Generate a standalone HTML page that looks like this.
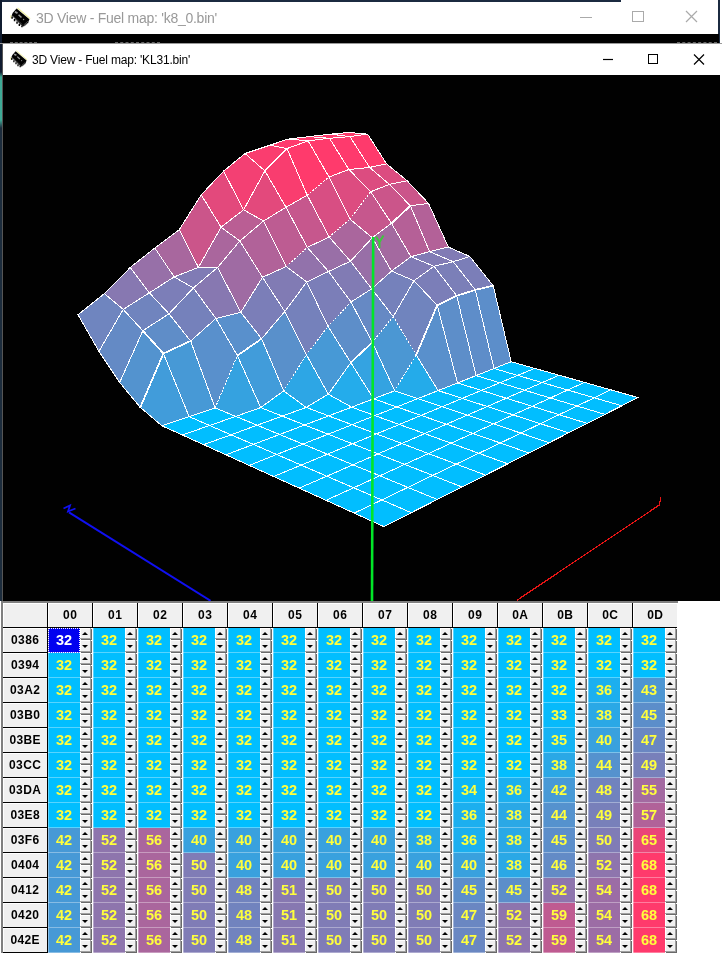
<!DOCTYPE html>
<html><head><meta charset="utf-8"><title>3D View</title>
<style>
html,body{margin:0;padding:0}
body{width:722px;height:953px;position:relative;overflow:hidden;background:#fff;font-family:"Liberation Sans",sans-serif}
div,i{box-sizing:border-box}
#all{position:absolute;left:0;top:0;width:722px;height:953px;will-change:transform;opacity:.999}
.abs{position:absolute}
.t1{position:absolute;left:36px;top:7.6px;font-size:14px;letter-spacing:-0.26px;color:#999;white-space:nowrap;line-height:20px}
.t2{position:absolute;left:32px;top:51px;font-size:12px;letter-spacing:-0.19px;color:#000;white-space:nowrap;line-height:18px}
#grid{position:absolute;left:0;top:601px;width:722px;height:352px;background:#fff}
.h{position:absolute;background:#f0f0f0;font-weight:bold;font-size:12px;letter-spacing:.4px;text-indent:.4px;text-align:center;color:#000;
 box-shadow:inset 1px 1px 0 #fff, 1px 0 0 #000, 0 1px 0 #000, 1px 1px 0 #000;}
.hl{box-shadow:inset 1px 1px 0 #fff, 0 1px 0 #000}
.c{position:absolute;width:32px;height:25px;line-height:25px;font-weight:bold;font-size:14.5px;letter-spacing:-0.2px;text-indent:-0.2px;color:#ffff3c;text-align:center;box-shadow:inset 1px 0 0 rgba(255,255,255,.35),inset 0 -1px 0 rgba(255,255,255,.35)}
.sel{background:#0000f0;color:#fff;outline:1px dotted #fff;outline-offset:-1px}
.sp{position:absolute;width:12px;height:25px;background:#fff}
.sp i{position:absolute;left:0;width:11px;height:12px;background:#f0f0f0;box-shadow:inset -1px -1px 0 #a0a0a0,inset 1px 1px 0 #fff, 1px 1px 0 #696969}
.sp i.u{top:0;height:11px}
.sp i.d{top:12px}
.sp i.u:after{content:"";position:absolute;left:2px;top:4px;border-left:3px solid transparent;border-right:3px solid transparent;border-bottom:3px solid #000}
.sp i.d:after{content:"";position:absolute;left:2px;top:5px;border-left:3px solid transparent;border-right:3px solid transparent;border-top:3px solid #000}
</style></head><body><div id="all">
<!-- back window -->
<div class="abs" style="left:0;top:0;width:621px;height:2px;background:#1b2a40"></div>
<div class="abs" style="left:0;top:0;width:2px;height:601px;background:linear-gradient(#101c30 0,#101c30 72px,#3faa96 77px,#3faa96 120px,#1c2c3c 128px,#1c2c3c 100%)"></div>
<div class="abs" style="left:2px;top:44px;width:1px;height:557px;background:#555"></div>
<div class="abs" style="left:718px;top:0;width:2px;height:43px;background:#1b2a40"></div>
<div class="abs" style="left:2px;top:34px;width:717px;height:9px;background:#000"></div>
<div class="abs" style="left:0;top:43px;width:722px;height:1px;background:#9a9a9a"></div>
<div class="abs" style="left:10px;top:42px;width:27px;height:1px;border-top:1px dashed #666"></div>
<div class="abs" style="left:115px;top:42px;width:45px;height:1px;border-top:1px dashed #666"></div>
<div class="abs" style="left:677px;top:42px;width:40px;height:1px;border-top:1px dashed #666"></div>
<svg class="abs" style="left:9.8px;top:6.8px" width="21.1" height="21.1" viewBox="-1 -1 18 18"><path d="M5.4 -0.1 L16.2 8.9" stroke="#f0f0a0" stroke-width="1"/><path d="M-0.2 6 L-0.2 8.5" stroke="#f0f0a0" stroke-width="1"/><path d="M4.6 0.2 L15.6 9.4 L14.6 12 L10.6 15.6 L8.8 14.8 L0.4 6.2 L1.4 4 Z" fill="#000"/><path d="M0.8 7v2M2.9 9.2v2M5 11.3v2M7 13.3v2M9.2 15v1.2" stroke="#000" stroke-width="1.3"/><path d="M1.2 6.4 L9.6 14.2" stroke="#666" stroke-width=".6"/><path d="M3.2 3.2 L5.4 4.2" stroke="#999" stroke-width="1.6"/><path d="M6.3 5.6 L8.8 8" stroke="#999" stroke-width="1.3"/><circle cx="10.6" cy="9.6" r=".6" fill="#888"/><path d="M10.5 14.5 L14.5 11 M11.5 15.3 L15 12.2" stroke="#777" stroke-width=".5"/></svg>
<div class="t1">3D View - Fuel map: 'k8_0.bin'</div>
<svg class="abs" style="left:570px;top:5px" width="140" height="24" viewBox="570 5 140 24">
<path d="M580 17.5H592" stroke="#aaa" stroke-width="1"/>
<rect x="632.5" y="11.5" width="11" height="10" fill="none" stroke="#aaa"/>
<path d="M686 11L697 22M697 11L686 22" stroke="#aaa" stroke-width="1.2"/>
</svg>
<!-- front window -->
<svg class="abs" style="left:10.0px;top:50.0px" width="18.0" height="18.0" viewBox="-1 -1 18 18"><path d="M5.4 -0.1 L16.2 8.9" stroke="#f0f0a0" stroke-width="1"/><path d="M-0.2 6 L-0.2 8.5" stroke="#f0f0a0" stroke-width="1"/><path d="M4.6 0.2 L15.6 9.4 L14.6 12 L10.6 15.6 L8.8 14.8 L0.4 6.2 L1.4 4 Z" fill="#000"/><path d="M0.8 7v2M2.9 9.2v2M5 11.3v2M7 13.3v2M9.2 15v1.2" stroke="#000" stroke-width="1.3"/><path d="M1.2 6.4 L9.6 14.2" stroke="#666" stroke-width=".6"/><path d="M3.2 3.2 L5.4 4.2" stroke="#999" stroke-width="1.6"/><path d="M6.3 5.6 L8.8 8" stroke="#999" stroke-width="1.3"/><circle cx="10.6" cy="9.6" r=".6" fill="#888"/><path d="M10.5 14.5 L14.5 11 M11.5 15.3 L15 12.2" stroke="#777" stroke-width=".5"/></svg>
<div class="t2">3D View - Fuel map: 'KL31.bin'</div>
<svg class="abs" style="left:590px;top:48px" width="125" height="22" viewBox="590 48 125 22">
<path d="M603 59.5H613" stroke="#000" stroke-width="1.2"/>
<rect x="648.5" y="54.5" width="9" height="9" fill="none" stroke="#000" stroke-width="1" shape-rendering="crispEdges"/>
<path d="M694 54.5L704 64.5M704 54.5L694 64.5" stroke="#000" stroke-width="1.2"/>
</svg>
<svg width="717" height="526" viewBox="3 75 717 526" style="position:absolute;left:3px;top:75px" shape-rendering="crispEdges">
<defs></defs>
<rect x="3" y="75" width="717" height="526" fill="#000"/>
<line x1="69" y1="512.3" x2="210.6" y2="600.8" stroke="#1010f0" stroke-width="2" shape-rendering="auto"/>
<path d="M63.5 508.5 L70 505.5 L68 511.5 L75.5 508.5" stroke="#1010f0" stroke-width="1.8" fill="none" shape-rendering="auto"/>
<polyline points="516.6,600.5 659.3,505 661,497" stroke="#e61414" stroke-width="1.2" fill="none"/>
<g stroke="#fff" stroke-width="1" fill="none" stroke-linecap="square"><polygon points="349.9,136.6 330.5,134.1 348.9,132.5 367.6,134.1" fill="#fd3b6d" stroke="none"/><path d="M349.9 136.6L330.5 134.1M330.5 134.1L348.9 132.5M367.6 134.1L348.9 132.5M349.9 136.6L367.6 134.1"/><polygon points="369.6,167.4 349.9,136.6 367.6,134.1 386.6,163.9" fill="#fe3a6c" stroke="none"/><path d="M369.6 167.4L349.9 136.6M349.9 136.6L367.6 134.1M386.6 163.9L367.6 134.1M369.6 167.4L386.6 163.9"/><polygon points="329.5,138.3 309.5,136.6 330.5,134.1 349.9,136.6" fill="#fe3a6d" stroke="none"/><path d="M329.5 138.3L309.5 136.6M309.5 136.6L330.5 134.1M349.9 136.6L330.5 134.1M329.5 138.3L349.9 136.6"/><polygon points="389.4,184.4 369.6,167.4 386.6,163.9 407.1,180.7" fill="#dc4c80" stroke="none"/><path d="M389.4 184.4L369.6 167.4M369.6 167.4L386.6 163.9M407.1 180.7L386.6 163.9M389.4 184.4L407.1 180.7"/><polygon points="410.4,205.8 389.4,184.4 407.1,180.7 428.5,203.4" fill="#cb558a" stroke="none"/><path d="M410.4 205.8L389.4 184.4M389.4 184.4L407.1 180.7M428.5 203.4L407.1 180.7M410.4 205.8L428.5 203.4"/><polygon points="348.9,169.5 329.5,138.3 349.9,136.6 369.6,167.4" fill="#fe3a6d" stroke="none"/><path d="M348.9 169.5L329.5 138.3M329.5 138.3L349.9 136.6M369.6 167.4L349.9 136.6M348.9 169.5L369.6 167.4"/><polygon points="429.6,251.6 410.4,205.8 428.5,203.4 448.3,247.0" fill="#b36198" stroke="none"/><path d="M429.6 251.6L410.4 205.8M410.4 205.8L428.5 203.4M448.3 247.0L428.5 203.4M429.6 251.6L448.3 247.0"/><polygon points="370.7,191.7 348.9,169.5 369.6,167.4 389.4,184.4" fill="#dc4c80" stroke="none"/><path d="M370.7 191.7L348.9 169.5M348.9 169.5L369.6 167.4M389.4 184.4L369.6 167.4M370.7 191.7L389.4 184.4"/><polygon points="308.1,140.8 288.1,139.1 309.5,136.6 329.5,138.3" fill="#fe3b6d" stroke="none"/><path d="M308.1 140.8L288.1 139.1M288.1 139.1L309.5 136.6M329.5 138.3L309.5 136.6M308.1 140.8L329.5 138.3"/><polygon points="453.2,261.7 429.6,251.6 448.3,247.0 469.8,256.5" fill="#817bb5" stroke="none"/><path d="M453.2 261.7L429.6 251.6M429.6 251.6L448.3 247.0M469.8 256.5L448.3 247.0M453.2 261.7L469.8 256.5"/><polygon points="517.6,375.4 494.0,368.5 511.2,361.7 534.7,368.4" fill="#00beff" stroke="none"/><path d="M517.6 375.4L494.0 368.5M494.0 368.5L511.2 361.7M534.7 368.4L511.2 361.7M517.6 375.4L534.7 368.4"/><polygon points="494.0,368.5 475.3,289.9 493.2,285.7 511.2,361.7" fill="#5c8eca" stroke="none"/><path d="M494.0 368.5L475.3 289.9M511.2 361.7L493.2 285.7M494.0 368.5L511.2 361.7"/><path d="M475.3 289.9L493.2 285.7" stroke-width="1.7"/><polygon points="391.5,223.3 370.7,191.7 389.4,184.4 410.4,205.8" fill="#cb558a" stroke="none"/><path d="M391.5 223.3L370.7 191.7M370.7 191.7L389.4 184.4M410.4 205.8L389.4 184.4"/><path d="M391.5 223.3L410.4 205.8" stroke-width="1.7"/><polygon points="329.0,177.0 308.1,140.8 329.5,138.3 348.9,169.5" fill="#ff3a6c" stroke="none"/><path d="M329.0 177.0L308.1 140.8M308.1 140.8L329.5 138.3M348.9 169.5L329.5 138.3M329.0 177.0L348.9 169.5"/><polygon points="410.9,256.7 391.5,223.3 410.4,205.8 429.6,251.6" fill="#b56097" stroke="none"/><path d="M410.9 256.7L391.5 223.3M429.6 251.6L410.4 205.8M410.9 256.7L429.6 251.6"/><path d="M391.5 223.3L410.4 205.8" stroke-width="1.7"/><polygon points="475.3,289.9 453.2,261.7 469.8,256.5 493.2,285.7" fill="#7b7eb8" stroke="none"/><path d="M475.3 289.9L453.2 261.7M453.2 261.7L469.8 256.5M493.2 285.7L469.8 256.5"/><path d="M475.3 289.9L493.2 285.7" stroke-width="1.7"/><polygon points="349.9,219.1 329.0,177.0 348.9,169.5 370.7,191.7" fill="#dd4c80" stroke="none"/><path d="M349.9 219.1L329.0 177.0M329.0 177.0L348.9 169.5M370.7 191.7L348.9 169.5"/><path d="M349.9 219.1L370.7 191.7" stroke-dasharray="1 2.6"/><polygon points="287.0,148.6 269.9,145.2 288.1,139.1 308.1,140.8" fill="#fe3b6d" stroke="none"/><path d="M287.0 148.6L269.9 145.2M269.9 145.2L288.1 139.1M308.1 140.8L288.1 139.1M287.0 148.6L308.1 140.8"/><polygon points="434.0,266.3 410.9,256.7 429.6,251.6 453.2,261.7" fill="#817bb5" stroke="none"/><path d="M434.0 266.3L410.9 256.7M410.9 256.7L429.6 251.6M453.2 261.7L429.6 251.6M434.0 266.3L453.2 261.7"/><polygon points="372.3,237.8 349.9,219.1 370.7,191.7 391.5,223.3" fill="#c6578d" stroke="none"/><path d="M372.3 237.8L349.9 219.1M391.5 223.3L370.7 191.7M372.3 237.8L391.5 223.3"/><path d="M349.9 219.1L370.7 191.7" stroke-dasharray="1 2.6"/><polygon points="542.2,382.6 517.6,375.4 534.7,368.4 559.1,375.2" fill="#00beff" stroke="none"/><path d="M542.2 382.6L517.6 375.4M517.6 375.4L534.7 368.4M559.1 375.2L534.7 368.4M542.2 382.6L559.1 375.2"/><polygon points="499.9,382.8 476.1,375.6 494.0,368.5 517.6,375.4" fill="#00beff" stroke="none"/><path d="M499.9 382.8L476.1 375.6M476.1 375.6L494.0 368.5M517.6 375.4L494.0 368.5M499.9 382.8L517.6 375.4"/><polygon points="476.1,375.6 456.7,295.8 475.3,289.9 494.0,368.5" fill="#5e8dc9" stroke="none"/><path d="M476.1 375.6L456.7 295.8M494.0 368.5L475.3 289.9M476.1 375.6L494.0 368.5"/><path d="M456.7 295.8L475.3 289.9" stroke-width="1.7"/><polygon points="307.2,195.2 287.0,148.6 308.1,140.8 329.0,177.0" fill="#ff3a6c" stroke="none"/><path d="M307.2 195.2L287.0 148.6M287.0 148.6L308.1 140.8M329.0 177.0L308.1 140.8"/><path d="M307.2 195.2L329.0 177.0" stroke-dasharray="1 2.6"/><polygon points="391.5,271.1 372.3,237.8 391.5,223.3 410.9,256.7" fill="#a469a0" stroke="none"/><path d="M391.5 271.1L372.3 237.8M372.3 237.8L391.5 223.3M410.9 256.7L391.5 223.3M391.5 271.1L410.9 256.7"/><polygon points="329.2,237.0 307.2,195.2 329.0,177.0 349.9,219.1" fill="#d84e83" stroke="none"/><path d="M329.2 237.0L307.2 195.2M349.9 219.1L329.0 177.0"/><path d="M307.2 195.2L329.0 177.0M329.2 237.0L349.9 219.1" stroke-dasharray="1 2.6"/><polygon points="456.7,295.8 434.0,266.3 453.2,261.7 475.3,289.9" fill="#7b7fb8" stroke="none"/><path d="M456.7 295.8L434.0 266.3M434.0 266.3L453.2 261.7M475.3 289.9L453.2 261.7"/><path d="M456.7 295.8L475.3 289.9" stroke-width="1.7"/><polygon points="350.5,261.2 329.2,237.0 349.9,219.1 372.3,237.8" fill="#aa669d" stroke="none"/><path d="M350.5 261.2L329.2 237.0M372.3 237.8L349.9 219.1M350.5 261.2L372.3 237.8"/><path d="M329.2 237.0L349.9 219.1" stroke-dasharray="1 2.6"/><polygon points="264.9,170.9 245.0,153.5 269.9,145.2 287.0,148.6" fill="#fa3d6f" stroke="none"/><path d="M264.9 170.9L245.0 153.5M245.0 153.5L269.9 145.2M287.0 148.6L269.9 145.2"/><path d="M264.9 170.9L287.0 148.6" stroke-width="1.7"/><polygon points="414.0,280.7 391.5,271.1 410.9,256.7 434.0,266.3" fill="#817bb5" stroke="none"/><path d="M414.0 280.7L391.5 271.1M391.5 271.1L410.9 256.7M434.0 266.3L410.9 256.7M414.0 280.7L434.0 266.3"/><polygon points="371.7,288.8 350.5,261.2 372.3,237.8 391.5,271.1" fill="#986fa7" stroke="none"/><path d="M371.7 288.8L350.5 261.2M350.5 261.2L372.3 237.8M391.5 271.1L372.3 237.8M371.7 288.8L391.5 271.1"/><polygon points="286.0,207.3 264.9,170.9 287.0,148.6 307.2,195.2" fill="#f93d6f" stroke="none"/><path d="M286.0 207.3L264.9 170.9M307.2 195.2L287.0 148.6M286.0 207.3L307.2 195.2"/><path d="M264.9 170.9L287.0 148.6" stroke-width="1.7"/><polygon points="307.3,247.4 286.0,207.3 307.2,195.2 329.2,237.0" fill="#c6578d" stroke="none"/><path d="M307.3 247.4L286.0 207.3M286.0 207.3L307.2 195.2M329.2 237.0L307.2 195.2M307.3 247.4L329.2 237.0"/><polygon points="567.7,390.0 542.2,382.6 559.1,375.2 584.5,382.4" fill="#00beff" stroke="none"/><path d="M567.7 390.0L542.2 382.6M542.2 382.6L559.1 375.2M584.5 382.4L559.1 375.2M567.7 390.0L584.5 382.4"/><polygon points="524.6,390.2 499.9,382.8 517.6,375.4 542.2,382.6" fill="#00beff" stroke="none"/><path d="M524.6 390.2L499.9 382.8M499.9 382.8L517.6 375.4M542.2 382.6L517.6 375.4M524.6 390.2L542.2 382.6"/><polygon points="243.6,209.8 223.6,171.1 245.0,153.5 264.9,170.9" fill="#f34073" stroke="none"/><path d="M243.6 209.8L223.6 171.1M223.6 171.1L245.0 153.5M264.9 170.9L245.0 153.5M243.6 209.8L264.9 170.9"/><polygon points="457.5,383.0 437.2,305.3 456.7,295.8 476.1,375.6" fill="#5d8ec9" stroke="none"/><path d="M457.5 383.0L437.2 305.3M476.1 375.6L456.7 295.8M457.5 383.0L476.1 375.6"/><path d="M437.2 305.3L456.7 295.8" stroke-width="1.7"/><polygon points="481.4,390.4 457.5,383.0 476.1,375.6 499.9,382.8" fill="#00beff" stroke="none"/><path d="M481.4 390.4L457.5 383.0M457.5 383.0L476.1 375.6M499.9 382.8L476.1 375.6M481.4 390.4L499.9 382.8"/><polygon points="328.5,271.5 307.3,247.4 329.2,237.0 350.5,261.2" fill="#996fa7" stroke="none"/><path d="M328.5 271.5L307.3 247.4M307.3 247.4L329.2 237.0M350.5 261.2L329.2 237.0M328.5 271.5L350.5 261.2"/><polygon points="393.2,316.5 371.7,288.8 391.5,271.1 414.0,280.7" fill="#7581bb" stroke="none"/><path d="M393.2 316.5L371.7 288.8M371.7 288.8L391.5 271.1M414.0 280.7L391.5 271.1M393.2 316.5L414.0 280.7"/><polygon points="437.2,305.3 414.0,280.7 434.0,266.3 456.7,295.8" fill="#7b7eb8" stroke="none"/><path d="M437.2 305.3L414.0 280.7M414.0 280.7L434.0 266.3M456.7 295.8L434.0 266.3"/><path d="M437.2 305.3L456.7 295.8" stroke-width="1.7"/><polygon points="263.5,221.0 243.6,209.8 264.9,170.9 286.0,207.3" fill="#e3497c" stroke="none"/><path d="M263.5 221.0L243.6 209.8M243.6 209.8L264.9 170.9M286.0 207.3L264.9 170.9M263.5 221.0L286.0 207.3"/><polygon points="221.1,227.2 201.2,194.8 223.6,171.1 243.6,209.8" fill="#e3497c" stroke="none"/><path d="M221.1 227.2L201.2 194.8M201.2 194.8L223.6 171.1M243.6 209.8L223.6 171.1M221.1 227.2L243.6 209.8"/><polygon points="351.0,302.0 328.5,271.5 350.5,261.2 371.7,288.8" fill="#817bb4" stroke="none"/><path d="M351.0 302.0L328.5 271.5M328.5 271.5L350.5 261.2M371.7 288.8L350.5 261.2M351.0 302.0L371.7 288.8"/><polygon points="286.3,266.5 263.5,221.0 286.0,207.3 307.3,247.4" fill="#bd5c92" stroke="none"/><path d="M286.3 266.5L263.5 221.0M263.5 221.0L286.0 207.3M307.3 247.4L286.0 207.3"/><path d="M286.3 266.5L307.3 247.4" stroke-dasharray="1 2.6"/><polygon points="438.1,390.6 416.2,355.0 437.2,305.3 457.5,383.0" fill="#5990cc" stroke="none"/><path d="M438.1 390.6L416.2 355.0M457.5 383.0L437.2 305.3M438.1 390.6L457.5 383.0"/><path d="M416.2 355.0L437.2 305.3" stroke-width="1.7"/><polygon points="416.2,355.0 393.2,316.5 414.0,280.7 437.2,305.3" fill="#7084be" stroke="none"/><path d="M393.2 316.5L414.0 280.7M437.2 305.3L414.0 280.7"/><path d="M416.2 355.0L437.2 305.3" stroke-width="1.7"/><path d="M416.2 355.0L393.2 316.5" stroke-dasharray="1 2.6"/><polygon points="372.3,342.3 351.0,302.0 371.7,288.8 393.2,316.5" fill="#6689c4" stroke="none"/><path d="M372.3 342.3L351.0 302.0M351.0 302.0L371.7 288.8M393.2 316.5L371.7 288.8"/><path d="M372.3 342.3L393.2 316.5" stroke-dasharray="1 2.6"/><polygon points="594.3,397.8 567.7,390.0 584.5,382.4 610.8,389.8" fill="#00beff" stroke="none"/><path d="M594.3 397.8L567.7 390.0M567.7 390.0L584.5 382.4M610.8 389.8L584.5 382.4M594.3 397.8L610.8 389.8"/><polygon points="198.4,267.4 179.4,229.5 201.2,194.8 221.1,227.2" fill="#cb558a" stroke="none"/><path d="M198.4 267.4L179.4 229.5M179.4 229.5L201.2 194.8M221.1 227.2L201.2 194.8M198.4 267.4L221.1 227.2"/><polygon points="550.3,398.0 524.6,390.2 542.2,382.6 567.7,390.0" fill="#00beff" stroke="none"/><path d="M550.3 398.0L524.6 390.2M524.6 390.2L542.2 382.6M567.7 390.0L542.2 382.6M550.3 398.0L567.7 390.0"/><polygon points="306.7,282.0 286.3,266.5 307.3,247.4 328.5,271.5" fill="#9272ab" stroke="none"/><path d="M306.7 282.0L286.3 266.5M328.5 271.5L307.3 247.4M306.7 282.0L328.5 271.5"/><path d="M286.3 266.5L307.3 247.4" stroke-dasharray="1 2.6"/><polygon points="239.8,241.0 221.1,227.2 243.6,209.8 263.5,221.0" fill="#ba5e94" stroke="none"/><path d="M239.8 241.0L221.1 227.2M221.1 227.2L243.6 209.8M263.5 221.0L243.6 209.8M239.8 241.0L263.5 221.0"/><polygon points="394.7,390.8 372.3,342.3 393.2,316.5 416.2,355.0" fill="#4b97d3" stroke="none"/><path d="M394.7 390.8L372.3 342.3"/><path d="M372.3 342.3L393.2 316.5M416.2 355.0L393.2 316.5M394.7 390.8L416.2 355.0" stroke-dasharray="1 2.6"/><polygon points="506.3,398.2 481.4,390.4 499.9,382.8 524.6,390.2" fill="#00beff" stroke="none"/><path d="M506.3 398.2L481.4 390.4M481.4 390.4L499.9 382.8M524.6 390.2L499.9 382.8M506.3 398.2L524.6 390.2"/><polygon points="462.2,398.4 438.1,390.6 457.5,383.0 481.4,390.4" fill="#00beff" stroke="none"/><path d="M462.2 398.4L438.1 390.6M438.1 390.6L457.5 383.0M481.4 390.4L457.5 383.0M462.2 398.4L481.4 390.4"/><polygon points="417.9,398.6 394.7,390.8 416.2,355.0 438.1,390.6" fill="#24abea" stroke="none"/><path d="M417.9 398.6L394.7 390.8M438.1 390.6L416.2 355.0M417.9 398.6L438.1 390.6"/><path d="M394.7 390.8L416.2 355.0" stroke-dasharray="1 2.6"/><polygon points="328.0,326.4 306.7,282.0 328.5,271.5 351.0,302.0" fill="#7b7eb8" stroke="none"/><path d="M328.0 326.4L306.7 282.0M306.7 282.0L328.5 271.5M351.0 302.0L328.5 271.5"/><path d="M328.0 326.4L351.0 302.0" stroke-dasharray="1 2.6"/><polygon points="262.5,277.3 239.8,241.0 263.5,221.0 286.3,266.5" fill="#b16299" stroke="none"/><path d="M262.5 277.3L239.8 241.0M239.8 241.0L263.5 221.0M286.3 266.5L263.5 221.0M262.5 277.3L286.3 266.5"/><polygon points="174.2,276.9 154.8,248.0 179.4,229.5 198.4,267.4" fill="#a8679e" stroke="none"/><path d="M174.2 276.9L154.8 248.0M154.8 248.0L179.4 229.5M198.4 267.4L179.4 229.5M174.2 276.9L198.4 267.4"/><polygon points="217.6,267.4 198.4,267.4 221.1,227.2 239.8,241.0" fill="#aa669d" stroke="none"/><path d="M217.6 267.4L198.4 267.4M198.4 267.4L221.1 227.2M239.8 241.0L221.1 227.2M217.6 267.4L239.8 241.0"/><polygon points="350.8,362.6 328.0,326.4 351.0,302.0 372.3,342.3" fill="#5d8ec9" stroke="none"/><path d="M350.8 362.6L328.0 326.4M372.3 342.3L351.0 302.0"/><path d="M350.8 362.6L372.3 342.3" stroke-width="1.7"/><path d="M328.0 326.4L351.0 302.0" stroke-dasharray="1 2.6"/><polygon points="373.6,398.8 350.8,362.6 372.3,342.3 394.7,390.8" fill="#34a3e1" stroke="none"/><path d="M373.6 398.8L350.8 362.6M394.7 390.8L372.3 342.3M373.6 398.8L394.7 390.8"/><path d="M350.8 362.6L372.3 342.3" stroke-width="1.7"/><polygon points="284.8,311.5 262.5,277.3 286.3,266.5 306.7,282.0" fill="#817bb4" stroke="none"/><path d="M284.8 311.5L262.5 277.3M262.5 277.3L286.3 266.5M306.7 282.0L286.3 266.5M284.8 311.5L306.7 282.0"/><polygon points="621.8,405.8 594.3,397.8 610.8,389.8 638.1,397.6" fill="#00beff" stroke="none"/><path d="M621.8 405.8L594.3 397.8M594.3 397.8L610.8 389.8M638.1 397.6L610.8 389.8M621.8 405.8L638.1 397.6"/><polygon points="577.1,406.0 550.3,398.0 567.7,390.0 594.3,397.8" fill="#00beff" stroke="none"/><path d="M577.1 406.0L550.3 398.0M550.3 398.0L567.7 390.0M594.3 397.8L567.7 390.0M577.1 406.0L594.3 397.8"/><polygon points="306.4,354.7 284.8,311.5 306.7,282.0 328.0,326.4" fill="#7581bb" stroke="none"/><path d="M306.4 354.7L284.8 311.5M284.8 311.5L306.7 282.0M328.0 326.4L306.7 282.0"/><path d="M306.4 354.7L328.0 326.4" stroke-dasharray="1 2.6"/><polygon points="532.2,406.3 506.3,398.2 524.6,390.2 550.3,398.0" fill="#00beff" stroke="none"/><path d="M532.2 406.3L506.3 398.2M506.3 398.2L524.6 390.2M550.3 398.0L524.6 390.2M532.2 406.3L550.3 398.0"/><polygon points="240.8,312.3 217.6,267.4 239.8,241.0 262.5,277.3" fill="#9f6ba3" stroke="none"/><path d="M240.8 312.3L217.6 267.4M217.6 267.4L239.8 241.0M262.5 277.3L239.8 241.0M240.8 312.3L262.5 277.3"/><polygon points="487.2,406.5 462.2,398.4 481.4,390.4 506.3,398.2" fill="#00beff" stroke="none"/><path d="M487.2 406.5L462.2 398.4M462.2 398.4L481.4 390.4M506.3 398.2L481.4 390.4M487.2 406.5L506.3 398.2"/><polygon points="193.4,287.9 174.2,276.9 198.4,267.4 217.6,267.4" fill="#807bb5" stroke="none"/><path d="M193.4 287.9L174.2 276.9M174.2 276.9L198.4 267.4M217.6 267.4L198.4 267.4M193.4 287.9L217.6 267.4"/><polygon points="328.3,394.2 306.4,354.7 328.0,326.4 350.8,362.6" fill="#4799d6" stroke="none"/><path d="M328.3 394.2L306.4 354.7M350.8 362.6L328.0 326.4M328.3 394.2L350.8 362.6"/><path d="M306.4 354.7L328.0 326.4" stroke-dasharray="1 2.6"/><polygon points="442.1,406.7 417.9,398.6 438.1,390.6 462.2,398.4" fill="#00beff" stroke="none"/><path d="M442.1 406.7L417.9 398.6M417.9 398.6L438.1 390.6M462.2 398.4L438.1 390.6M442.1 406.7L462.2 398.4"/><polygon points="396.9,407.0 373.6,398.8 394.7,390.8 417.9,398.6" fill="#00beff" stroke="none"/><path d="M396.9 407.0L373.6 398.8M373.6 398.8L394.7 390.8M417.9 398.6L394.7 390.8M396.9 407.0L417.9 398.6"/><polygon points="149.3,292.8 130.3,267.4 154.8,248.0 174.2,276.9" fill="#9770a8" stroke="none"/><path d="M149.3 292.8L130.3 267.4M130.3 267.4L154.8 248.0M174.2 276.9L154.8 248.0M149.3 292.8L174.2 276.9"/><polygon points="261.6,338.7 240.8,312.3 262.5,277.3 284.8,311.5" fill="#7b7eb8" stroke="none"/><path d="M261.6 338.7L240.8 312.3M240.8 312.3L262.5 277.3M284.8 311.5L262.5 277.3M261.6 338.7L284.8 311.5"/><polygon points="283.7,390.9 261.6,338.7 284.8,311.5 306.4,354.7" fill="#5990cb" stroke="none"/><path d="M283.7 390.9L261.6 338.7M261.6 338.7L284.8 311.5M306.4 354.7L284.8 311.5"/><path d="M283.7 390.9L306.4 354.7" stroke-dasharray="1 2.6"/><polygon points="351.6,407.2 328.3,394.2 350.8,362.6 373.6,398.8" fill="#24aceb" stroke="none"/><path d="M351.6 407.2L328.3 394.2M328.3 394.2L350.8 362.6M373.6 398.8L350.8 362.6M351.6 407.2L373.6 398.8"/><polygon points="306.2,407.4 283.7,390.9 306.4,354.7 328.3,394.2" fill="#2da6e5" stroke="none"/><path d="M306.2 407.4L283.7 390.9M328.3 394.2L306.4 354.7M306.2 407.4L328.3 394.2"/><path d="M283.7 390.9L306.4 354.7" stroke-dasharray="1 2.6"/><polygon points="215.9,318.5 193.4,287.9 217.6,267.4 240.8,312.3" fill="#8778b1" stroke="none"/><path d="M215.9 318.5L193.4 287.9M193.4 287.9L217.6 267.4M240.8 312.3L217.6 267.4M215.9 318.5L240.8 312.3"/><polygon points="169.0,313.8 149.3,292.8 174.2,276.9 193.4,287.9" fill="#7c7eb8" stroke="none"/><path d="M169.0 313.8L149.3 292.8M149.3 292.8L174.2 276.9M193.4 287.9L174.2 276.9M169.0 313.8L193.4 287.9"/><polygon points="123.2,309.4 104.4,293.6 130.3,267.4 149.3,292.8" fill="#8778b1" stroke="none"/><path d="M123.2 309.4L104.4 293.6M104.4 293.6L130.3 267.4M149.3 292.8L130.3 267.4M123.2 309.4L149.3 292.8"/><polygon points="604.9,414.4 577.1,406.0 594.3,397.8 621.8,405.8" fill="#00beff" stroke="none"/><path d="M604.9 414.4L577.1 406.0M577.1 406.0L594.3 397.8M621.8 405.8L594.3 397.8M604.9 414.4L621.8 405.8"/><polygon points="237.4,355.6 215.9,318.5 240.8,312.3 261.6,338.7" fill="#5990cc" stroke="none"/><path d="M237.4 355.6L215.9 318.5M215.9 318.5L240.8 312.3M261.6 338.7L240.8 312.3"/><path d="M237.4 355.6L261.6 338.7" stroke-width="1.7"/><polygon points="559.1,414.7 532.2,406.3 550.3,398.0 577.1,406.0" fill="#00beff" stroke="none"/><path d="M559.1 414.7L532.2 406.3M532.2 406.3L550.3 398.0M577.1 406.0L550.3 398.0M559.1 414.7L577.1 406.0"/><polygon points="260.7,407.6 237.4,355.6 261.6,338.7 283.7,390.9" fill="#419cda" stroke="none"/><path d="M260.7 407.6L237.4 355.6M283.7 390.9L261.6 338.7M260.7 407.6L283.7 390.9"/><path d="M237.4 355.6L261.6 338.7" stroke-width="1.7"/><polygon points="513.2,414.9 487.2,406.5 506.3,398.2 532.2,406.3" fill="#00beff" stroke="none"/><path d="M513.2 414.9L487.2 406.5M487.2 406.5L506.3 398.2M532.2 406.3L506.3 398.2M513.2 414.9L532.2 406.3"/><polygon points="467.2,415.2 442.1,406.7 462.2,398.4 487.2,406.5" fill="#00beff" stroke="none"/><path d="M467.2 415.2L442.1 406.7M442.1 406.7L462.2 398.4M487.2 406.5L462.2 398.4M467.2 415.2L487.2 406.5"/><polygon points="421.1,415.4 396.9,407.0 417.9,398.6 442.1,406.7" fill="#00beff" stroke="none"/><path d="M421.1 415.4L396.9 407.0M396.9 407.0L417.9 398.6M442.1 406.7L417.9 398.6M421.1 415.4L442.1 406.7"/><polygon points="374.9,415.6 351.6,407.2 373.6,398.8 396.9,407.0" fill="#00beff" stroke="none"/><path d="M374.9 415.6L351.6 407.2M351.6 407.2L373.6 398.8M396.9 407.0L373.6 398.8M374.9 415.6L396.9 407.0"/><polygon points="328.6,415.9 306.2,407.4 328.3,394.2 351.6,407.2" fill="#06bbfc" stroke="none"/><path d="M328.6 415.9L306.2 407.4M306.2 407.4L328.3 394.2M351.6 407.2L328.3 394.2M328.6 415.9L351.6 407.2"/><polygon points="282.2,416.1 260.7,407.6 283.7,390.9 306.2,407.4" fill="#0ab9f9" stroke="none"/><path d="M282.2 416.1L260.7 407.6M260.7 407.6L283.7 390.9M306.2 407.4L283.7 390.9M282.2 416.1L306.2 407.4"/><polygon points="190.6,341.0 169.0,313.8 193.4,287.9 215.9,318.5" fill="#7581bb" stroke="none"/><path d="M190.6 341.0L169.0 313.8M169.0 313.8L193.4 287.9M215.9 318.5L193.4 287.9M190.6 341.0L215.9 318.5"/><polygon points="98.9,351.3 78.0,314.7 104.4,293.6 123.2,309.4" fill="#6f85bf" stroke="none"/><path d="M98.9 351.3L78.0 314.7M78.0 314.7L104.4 293.6M123.2 309.4L104.4 293.6M98.9 351.3L123.2 309.4"/><polygon points="215.1,407.9 190.6,341.0 215.9,318.5 237.4,355.6" fill="#5990cc" stroke="none"/><path d="M215.1 407.9L190.6 341.0M190.6 341.0L215.9 318.5M237.4 355.6L215.9 318.5"/><path d="M215.1 407.9L237.4 355.6" stroke-dasharray="1 2.6"/><polygon points="142.8,330.7 123.2,309.4 149.3,292.8 169.0,313.8" fill="#7084be" stroke="none"/><path d="M142.8 330.7L123.2 309.4M123.2 309.4L149.3 292.8M169.0 313.8L149.3 292.8M142.8 330.7L169.0 313.8"/><polygon points="235.7,416.4 215.1,407.9 237.4,355.6 260.7,407.6" fill="#35a2e0" stroke="none"/><path d="M235.7 416.4L215.1 407.9M260.7 407.6L237.4 355.6M235.7 416.4L260.7 407.6"/><path d="M215.1 407.9L237.4 355.6" stroke-dasharray="1 2.6"/><polygon points="119.7,382.5 98.9,351.3 123.2,309.4 142.8,330.7" fill="#648ac5" stroke="none"/><path d="M119.7 382.5L98.9 351.3M98.9 351.3L123.2 309.4M142.8 330.7L123.2 309.4M119.7 382.5L142.8 330.7"/><polygon points="587.2,423.4 559.1,414.7 577.1,406.0 604.9,414.4" fill="#00beff" stroke="none"/><path d="M587.2 423.4L559.1 414.7M559.1 414.7L577.1 406.0M604.9 414.4L577.1 406.0M587.2 423.4L604.9 414.4"/><polygon points="540.4,423.7 513.2,414.9 532.2,406.3 559.1,414.7" fill="#00beff" stroke="none"/><path d="M540.4 423.7L513.2 414.9M513.2 414.9L532.2 406.3M559.1 414.7L532.2 406.3M540.4 423.7L559.1 414.7"/><polygon points="493.5,423.9 467.2,415.2 487.2,406.5 513.2,414.9" fill="#00beff" stroke="none"/><path d="M493.5 423.9L467.2 415.2M467.2 415.2L487.2 406.5M513.2 414.9L487.2 406.5M493.5 423.9L513.2 414.9"/><polygon points="163.4,353.5 142.8,330.7 169.0,313.8 190.6,341.0" fill="#5f8dc8" stroke="none"/><path d="M142.8 330.7L169.0 313.8M190.6 341.0L169.0 313.8"/><path d="M163.4 353.5L142.8 330.7M163.4 353.5L190.6 341.0" stroke-width="1.7"/><polygon points="446.4,424.2 421.1,415.4 442.1,406.7 467.2,415.2" fill="#00beff" stroke="none"/><path d="M446.4 424.2L421.1 415.4M421.1 415.4L442.1 406.7M467.2 415.2L442.1 406.7M446.4 424.2L467.2 415.2"/><polygon points="189.1,416.6 163.4,353.5 190.6,341.0 215.1,407.9" fill="#4799d6" stroke="none"/><path d="M189.1 416.6L163.4 353.5M215.1 407.9L190.6 341.0M189.1 416.6L215.1 407.9"/><path d="M163.4 353.5L190.6 341.0" stroke-width="1.7"/><polygon points="399.3,424.5 374.9,415.6 396.9,407.0 421.1,415.4" fill="#00beff" stroke="none"/><path d="M399.3 424.5L374.9 415.6M374.9 415.6L396.9 407.0M421.1 415.4L396.9 407.0M399.3 424.5L421.1 415.4"/><polygon points="352.0,424.7 328.6,415.9 351.6,407.2 374.9,415.6" fill="#00beff" stroke="none"/><path d="M352.0 424.7L328.6 415.9M328.6 415.9L351.6 407.2M374.9 415.6L351.6 407.2M352.0 424.7L374.9 415.6"/><polygon points="304.7,425.0 282.2,416.1 306.2,407.4 328.6,415.9" fill="#00beff" stroke="none"/><path d="M304.7 425.0L282.2 416.1M282.2 416.1L306.2 407.4M328.6 415.9L306.2 407.4M304.7 425.0L328.6 415.9"/><polygon points="257.2,425.2 235.7,416.4 260.7,407.6 282.2,416.1" fill="#00beff" stroke="none"/><path d="M257.2 425.2L235.7 416.4M235.7 416.4L260.7 407.6M282.2 416.1L260.7 407.6M257.2 425.2L282.2 416.1"/><polygon points="209.6,425.5 189.1,416.6 215.1,407.9 235.7,416.4" fill="#00beff" stroke="none"/><path d="M209.6 425.5L189.1 416.6M189.1 416.6L215.1 407.9M235.7 416.4L215.1 407.9M209.6 425.5L235.7 416.4"/><polygon points="140.3,407.4 119.7,382.5 142.8,330.7 163.4,353.5" fill="#5393cf" stroke="none"/><path d="M140.3 407.4L119.7 382.5M119.7 382.5L142.8 330.7"/><path d="M163.4 353.5L142.8 330.7M140.3 407.4L163.4 353.5" stroke-width="1.7"/><polygon points="161.9,425.8 140.3,407.4 163.4,353.5 189.1,416.6" fill="#419cda" stroke="none"/><path d="M161.9 425.8L140.3 407.4M189.1 416.6L163.4 353.5M161.9 425.8L189.1 416.6"/><path d="M140.3 407.4L163.4 353.5" stroke-width="1.7"/><polygon points="568.7,432.8 540.4,423.7 559.1,414.7 587.2,423.4" fill="#00beff" stroke="none"/><path d="M568.7 432.8L540.4 423.7M540.4 423.7L559.1 414.7M587.2 423.4L559.1 414.7M568.7 432.8L587.2 423.4"/><polygon points="520.8,433.1 493.5,423.9 513.2,414.9 540.4,423.7" fill="#00beff" stroke="none"/><path d="M520.8 433.1L493.5 423.9M493.5 423.9L513.2 414.9M540.4 423.7L513.2 414.9M520.8 433.1L540.4 423.7"/><polygon points="472.8,433.4 446.4,424.2 467.2,415.2 493.5,423.9" fill="#00beff" stroke="none"/><path d="M472.8 433.4L446.4 424.2M446.4 424.2L467.2 415.2M493.5 423.9L467.2 415.2M472.8 433.4L493.5 423.9"/><polygon points="424.7,433.6 399.3,424.5 421.1,415.4 446.4,424.2" fill="#00beff" stroke="none"/><path d="M424.7 433.6L399.3 424.5M399.3 424.5L421.1 415.4M446.4 424.2L421.1 415.4M424.7 433.6L446.4 424.2"/><polygon points="376.4,433.9 352.0,424.7 374.9,415.6 399.3,424.5" fill="#00beff" stroke="none"/><path d="M376.4 433.9L352.0 424.7M352.0 424.7L374.9 415.6M399.3 424.5L374.9 415.6M376.4 433.9L399.3 424.5"/><polygon points="328.1,434.2 304.7,425.0 328.6,415.9 352.0,424.7" fill="#00beff" stroke="none"/><path d="M328.1 434.2L304.7 425.0M304.7 425.0L328.6 415.9M352.0 424.7L328.6 415.9M328.1 434.2L352.0 424.7"/><polygon points="279.6,434.5 257.2,425.2 282.2,416.1 304.7,425.0" fill="#00beff" stroke="none"/><path d="M279.6 434.5L257.2 425.2M257.2 425.2L282.2 416.1M304.7 425.0L282.2 416.1M279.6 434.5L304.7 425.0"/><polygon points="231.0,434.8 209.6,425.5 235.7,416.4 257.2,425.2" fill="#00beff" stroke="none"/><path d="M231.0 434.8L209.6 425.5M209.6 425.5L235.7 416.4M257.2 425.2L235.7 416.4M231.0 434.8L257.2 425.2"/><polygon points="182.3,435.0 161.9,425.8 189.1,416.6 209.6,425.5" fill="#00beff" stroke="none"/><path d="M182.3 435.0L161.9 425.8M161.9 425.8L189.1 416.6M209.6 425.5L189.1 416.6M182.3 435.0L209.6 425.5"/><polygon points="549.3,442.7 520.8,433.1 540.4,423.7 568.7,432.8" fill="#00beff" stroke="none"/><path d="M549.3 442.7L520.8 433.1M520.8 433.1L540.4 423.7M568.7 432.8L540.4 423.7M549.3 442.7L568.7 432.8"/><polygon points="500.3,443.0 472.8,433.4 493.5,423.9 520.8,433.1" fill="#00beff" stroke="none"/><path d="M500.3 443.0L472.8 433.4M472.8 433.4L493.5 423.9M520.8 433.1L493.5 423.9M500.3 443.0L520.8 433.1"/><polygon points="451.1,443.2 424.7,433.6 446.4,424.2 472.8,433.4" fill="#00beff" stroke="none"/><path d="M451.1 443.2L424.7 433.6M424.7 433.6L446.4 424.2M472.8 433.4L446.4 424.2M451.1 443.2L472.8 433.4"/><polygon points="401.9,443.5 376.4,433.9 399.3,424.5 424.7,433.6" fill="#00beff" stroke="none"/><path d="M401.9 443.5L376.4 433.9M376.4 433.9L399.3 424.5M424.7 433.6L399.3 424.5M401.9 443.5L424.7 433.6"/><polygon points="352.5,443.8 328.1,434.2 352.0,424.7 376.4,433.9" fill="#00beff" stroke="none"/><path d="M352.5 443.8L328.1 434.2M328.1 434.2L352.0 424.7M376.4 433.9L352.0 424.7M352.5 443.8L376.4 433.9"/><polygon points="303.0,444.1 279.6,434.5 304.7,425.0 328.1,434.2" fill="#00beff" stroke="none"/><path d="M303.0 444.1L279.6 434.5M279.6 434.5L304.7 425.0M328.1 434.2L304.7 425.0M303.0 444.1L328.1 434.2"/><polygon points="253.4,444.4 231.0,434.8 257.2,425.2 279.6,434.5" fill="#00beff" stroke="none"/><path d="M253.4 444.4L231.0 434.8M231.0 434.8L257.2 425.2M279.6 434.5L257.2 425.2M253.4 444.4L279.6 434.5"/><polygon points="203.6,444.7 182.3,435.0 209.6,425.5 231.0,434.8" fill="#00beff" stroke="none"/><path d="M203.6 444.7L182.3 435.0M182.3 435.0L209.6 425.5M231.0 434.8L209.6 425.5M203.6 444.7L231.0 434.8"/><polygon points="529.0,453.0 500.3,443.0 520.8,433.1 549.3,442.7" fill="#00beff" stroke="none"/><path d="M529.0 453.0L500.3 443.0M500.3 443.0L520.8 433.1M549.3 442.7L520.8 433.1M529.0 453.0L549.3 442.7"/><polygon points="478.8,453.3 451.1,443.2 472.8,433.4 500.3,443.0" fill="#00beff" stroke="none"/><path d="M478.8 453.3L451.1 443.2M451.1 443.2L472.8 433.4M500.3 443.0L472.8 433.4M478.8 453.3L500.3 443.0"/><polygon points="428.5,453.6 401.9,443.5 424.7,433.6 451.1,443.2" fill="#00beff" stroke="none"/><path d="M428.5 453.6L401.9 443.5M401.9 443.5L424.7 433.6M451.1 443.2L424.7 433.6M428.5 453.6L451.1 443.2"/><polygon points="378.0,453.9 352.5,443.8 376.4,433.9 401.9,443.5" fill="#00beff" stroke="none"/><path d="M378.0 453.9L352.5 443.8M352.5 443.8L376.4 433.9M401.9 443.5L376.4 433.9M378.0 453.9L401.9 443.5"/><polygon points="327.5,454.2 303.0,444.1 328.1,434.2 352.5,443.8" fill="#00beff" stroke="none"/><path d="M327.5 454.2L303.0 444.1M303.0 444.1L328.1 434.2M352.5 443.8L328.1 434.2M327.5 454.2L352.5 443.8"/><polygon points="276.7,454.5 253.4,444.4 279.6,434.5 303.0,444.1" fill="#00beff" stroke="none"/><path d="M276.7 454.5L253.4 444.4M253.4 444.4L279.6 434.5M303.0 444.1L279.6 434.5M276.7 454.5L303.0 444.1"/><polygon points="225.9,454.8 203.6,444.7 231.0,434.8 253.4,444.4" fill="#00beff" stroke="none"/><path d="M225.9 454.8L203.6 444.7M203.6 444.7L231.0 434.8M253.4 444.4L231.0 434.8M225.9 454.8L253.4 444.4"/><polygon points="507.8,463.8 478.8,453.3 500.3,443.0 529.0,453.0" fill="#00beff" stroke="none"/><path d="M507.8 463.8L478.8 453.3M478.8 453.3L500.3 443.0M529.0 453.0L500.3 443.0M507.8 463.8L529.0 453.0"/><polygon points="456.3,464.1 428.5,453.6 451.1,443.2 478.8,453.3" fill="#00beff" stroke="none"/><path d="M456.3 464.1L428.5 453.6M428.5 453.6L451.1 443.2M478.8 453.3L451.1 443.2M456.3 464.1L478.8 453.3"/><polygon points="404.7,464.4 378.0,453.9 401.9,443.5 428.5,453.6" fill="#00beff" stroke="none"/><path d="M404.7 464.4L378.0 453.9M378.0 453.9L401.9 443.5M428.5 453.6L401.9 443.5M404.7 464.4L428.5 453.6"/><polygon points="353.0,464.8 327.5,454.2 352.5,443.8 378.0,453.9" fill="#00beff" stroke="none"/><path d="M353.0 464.8L327.5 454.2M327.5 454.2L352.5 443.8M378.0 453.9L352.5 443.8M353.0 464.8L378.0 453.9"/><polygon points="301.2,465.1 276.7,454.5 303.0,444.1 327.5,454.2" fill="#00beff" stroke="none"/><path d="M301.2 465.1L276.7 454.5M276.7 454.5L303.0 444.1M327.5 454.2L303.0 444.1M301.2 465.1L327.5 454.2"/><polygon points="249.2,465.4 225.9,454.8 253.4,444.4 276.7,454.5" fill="#00beff" stroke="none"/><path d="M249.2 465.4L225.9 454.8M225.9 454.8L253.4 444.4M276.7 454.5L253.4 444.4M249.2 465.4L276.7 454.5"/><polygon points="485.5,475.1 456.3,464.1 478.8,453.3 507.8,463.8" fill="#00beff" stroke="none"/><path d="M485.5 475.1L456.3 464.1M456.3 464.1L478.8 453.3M507.8 463.8L478.8 453.3M485.5 475.1L507.8 463.8"/><polygon points="432.7,475.4 404.7,464.4 428.5,453.6 456.3,464.1" fill="#00beff" stroke="none"/><path d="M432.7 475.4L404.7 464.4M404.7 464.4L428.5 453.6M456.3 464.1L428.5 453.6M432.7 475.4L456.3 464.1"/><polygon points="379.8,475.8 353.0,464.8 378.0,453.9 404.7,464.4" fill="#00beff" stroke="none"/><path d="M379.8 475.8L353.0 464.8M353.0 464.8L378.0 453.9M404.7 464.4L378.0 453.9M379.8 475.8L404.7 464.4"/><polygon points="326.8,476.2 301.2,465.1 327.5,454.2 353.0,464.8" fill="#00beff" stroke="none"/><path d="M326.8 476.2L301.2 465.1M301.2 465.1L327.5 454.2M353.0 464.8L327.5 454.2M326.8 476.2L353.0 464.8"/><polygon points="273.6,476.5 249.2,465.4 276.7,454.5 301.2,465.1" fill="#00beff" stroke="none"/><path d="M273.6 476.5L249.2 465.4M249.2 465.4L276.7 454.5M301.2 465.1L276.7 454.5M273.6 476.5L301.2 465.1"/><polygon points="462.0,487.0 432.7,475.4 456.3,464.1 485.5,475.1" fill="#00beff" stroke="none"/><path d="M462.0 487.0L432.7 475.4M432.7 475.4L456.3 464.1M485.5 475.1L456.3 464.1M462.0 487.0L485.5 475.1"/><polygon points="407.9,487.4 379.8,475.8 404.7,464.4 432.7,475.4" fill="#00beff" stroke="none"/><path d="M407.9 487.4L379.8 475.8M379.8 475.8L404.7 464.4M432.7 475.4L404.7 464.4M407.9 487.4L432.7 475.4"/><polygon points="353.6,487.8 326.8,476.2 353.0,464.8 379.8,475.8" fill="#00beff" stroke="none"/><path d="M353.6 487.8L326.8 476.2M326.8 476.2L353.0 464.8M379.8 475.8L353.0 464.8M353.6 487.8L379.8 475.8"/><polygon points="299.2,488.1 273.6,476.5 301.2,465.1 326.8,476.2" fill="#00beff" stroke="none"/><path d="M299.2 488.1L273.6 476.5M273.6 476.5L301.2 465.1M326.8 476.2L301.2 465.1M299.2 488.1L326.8 476.2"/><polygon points="437.3,499.5 407.9,487.4 432.7,475.4 462.0,487.0" fill="#00beff" stroke="none"/><path d="M437.3 499.5L407.9 487.4M407.9 487.4L432.7 475.4M462.0 487.0L432.7 475.4M437.3 499.5L462.0 487.0"/><polygon points="381.8,499.9 353.6,487.8 379.8,475.8 407.9,487.4" fill="#00beff" stroke="none"/><path d="M381.8 499.9L353.6 487.8M353.6 487.8L379.8 475.8M407.9 487.4L379.8 475.8M381.8 499.9L407.9 487.4"/><polygon points="326.0,500.3 299.2,488.1 326.8,476.2 353.6,487.8" fill="#00beff" stroke="none"/><path d="M326.0 500.3L299.2 488.1M299.2 488.1L326.8 476.2M353.6 487.8L326.8 476.2M326.0 500.3L353.6 487.8"/><polygon points="411.3,512.7 381.8,499.9 407.9,487.4 437.3,499.5" fill="#00beff" stroke="none"/><path d="M411.3 512.7L381.8 499.9M381.8 499.9L407.9 487.4M437.3 499.5L407.9 487.4M411.3 512.7L437.3 499.5"/><polygon points="354.2,513.1 326.0,500.3 353.6,487.8 381.8,499.9" fill="#00beff" stroke="none"/><path d="M354.2 513.1L326.0 500.3M326.0 500.3L353.6 487.8M381.8 499.9L353.6 487.8M354.2 513.1L381.8 499.9"/><polygon points="383.9,526.6 354.2,513.1 381.8,499.9 411.3,512.7" fill="#00beff" stroke="none"/><path d="M383.9 526.6L354.2 513.1M354.2 513.1L381.8 499.9M411.3 512.7L381.8 499.9M383.9 526.6L411.3 512.7"/></g>
<line x1="372" y1="601" x2="373.2" y2="237" stroke="#00e628" stroke-width="2.6" shape-rendering="auto"/>
<path d="M376 236.5 L379.5 242 L383.5 235.5 M379.5 242 L379.5 248" stroke="#3cc83c" stroke-width="2" fill="none" shape-rendering="auto"/>
</svg>
<div class="abs" style="left:1px;top:601px;width:2px;height:352px;background:#808080"></div>
<div class="abs" style="left:1px;top:601px;width:677px;height:2px;background:#808080"></div>
<div class="h" style="left:3px;top:603px;width:44px;height:24px;line-height:24px"></div>
<div class="h" style="left:48px;top:603px;width:44px;height:24px;line-height:24px">00</div>
<div class="h" style="left:93px;top:603px;width:44px;height:24px;line-height:24px">01</div>
<div class="h" style="left:138px;top:603px;width:44px;height:24px;line-height:24px">02</div>
<div class="h" style="left:183px;top:603px;width:44px;height:24px;line-height:24px">03</div>
<div class="h" style="left:228px;top:603px;width:44px;height:24px;line-height:24px">04</div>
<div class="h" style="left:273px;top:603px;width:44px;height:24px;line-height:24px">05</div>
<div class="h" style="left:318px;top:603px;width:44px;height:24px;line-height:24px">06</div>
<div class="h" style="left:363px;top:603px;width:44px;height:24px;line-height:24px">07</div>
<div class="h" style="left:408px;top:603px;width:44px;height:24px;line-height:24px">08</div>
<div class="h" style="left:453px;top:603px;width:44px;height:24px;line-height:24px">09</div>
<div class="h" style="left:498px;top:603px;width:44px;height:24px;line-height:24px">0A</div>
<div class="h" style="left:543px;top:603px;width:44px;height:24px;line-height:24px">0B</div>
<div class="h" style="left:588px;top:603px;width:44px;height:24px;line-height:24px">0C</div>
<div class="h hl" style="left:633px;top:603px;width:44px;height:24px;line-height:24px">0D</div>
<div class="h" style="left:3px;top:628px;width:44px;height:24px;line-height:24px">0386</div>
<div class="c sel" style="left:48px;top:628px">32</div>
<div class="sp" style="left:80px;top:628px"><i class="u"></i><i class="d"></i></div>
<div class="c" style="left:93px;top:628px;background:#00beff">32</div>
<div class="sp" style="left:125px;top:628px"><i class="u"></i><i class="d"></i></div>
<div class="c" style="left:138px;top:628px;background:#00beff">32</div>
<div class="sp" style="left:170px;top:628px"><i class="u"></i><i class="d"></i></div>
<div class="c" style="left:183px;top:628px;background:#00beff">32</div>
<div class="sp" style="left:215px;top:628px"><i class="u"></i><i class="d"></i></div>
<div class="c" style="left:228px;top:628px;background:#00beff">32</div>
<div class="sp" style="left:260px;top:628px"><i class="u"></i><i class="d"></i></div>
<div class="c" style="left:273px;top:628px;background:#00beff">32</div>
<div class="sp" style="left:305px;top:628px"><i class="u"></i><i class="d"></i></div>
<div class="c" style="left:318px;top:628px;background:#00beff">32</div>
<div class="sp" style="left:350px;top:628px"><i class="u"></i><i class="d"></i></div>
<div class="c" style="left:363px;top:628px;background:#00beff">32</div>
<div class="sp" style="left:395px;top:628px"><i class="u"></i><i class="d"></i></div>
<div class="c" style="left:408px;top:628px;background:#00beff">32</div>
<div class="sp" style="left:440px;top:628px"><i class="u"></i><i class="d"></i></div>
<div class="c" style="left:453px;top:628px;background:#00beff">32</div>
<div class="sp" style="left:485px;top:628px"><i class="u"></i><i class="d"></i></div>
<div class="c" style="left:498px;top:628px;background:#00beff">32</div>
<div class="sp" style="left:530px;top:628px"><i class="u"></i><i class="d"></i></div>
<div class="c" style="left:543px;top:628px;background:#00beff">32</div>
<div class="sp" style="left:575px;top:628px"><i class="u"></i><i class="d"></i></div>
<div class="c" style="left:588px;top:628px;background:#00beff">32</div>
<div class="sp" style="left:620px;top:628px"><i class="u"></i><i class="d"></i></div>
<div class="c" style="left:633px;top:628px;background:#00beff">32</div>
<div class="sp" style="left:665px;top:628px"><i class="u"></i><i class="d"></i></div>
<div class="h" style="left:3px;top:653px;width:44px;height:24px;line-height:24px">0394</div>
<div class="c" style="left:48px;top:653px;background:#00beff">32</div>
<div class="sp" style="left:80px;top:653px"><i class="u"></i><i class="d"></i></div>
<div class="c" style="left:93px;top:653px;background:#00beff">32</div>
<div class="sp" style="left:125px;top:653px"><i class="u"></i><i class="d"></i></div>
<div class="c" style="left:138px;top:653px;background:#00beff">32</div>
<div class="sp" style="left:170px;top:653px"><i class="u"></i><i class="d"></i></div>
<div class="c" style="left:183px;top:653px;background:#00beff">32</div>
<div class="sp" style="left:215px;top:653px"><i class="u"></i><i class="d"></i></div>
<div class="c" style="left:228px;top:653px;background:#00beff">32</div>
<div class="sp" style="left:260px;top:653px"><i class="u"></i><i class="d"></i></div>
<div class="c" style="left:273px;top:653px;background:#00beff">32</div>
<div class="sp" style="left:305px;top:653px"><i class="u"></i><i class="d"></i></div>
<div class="c" style="left:318px;top:653px;background:#00beff">32</div>
<div class="sp" style="left:350px;top:653px"><i class="u"></i><i class="d"></i></div>
<div class="c" style="left:363px;top:653px;background:#00beff">32</div>
<div class="sp" style="left:395px;top:653px"><i class="u"></i><i class="d"></i></div>
<div class="c" style="left:408px;top:653px;background:#00beff">32</div>
<div class="sp" style="left:440px;top:653px"><i class="u"></i><i class="d"></i></div>
<div class="c" style="left:453px;top:653px;background:#00beff">32</div>
<div class="sp" style="left:485px;top:653px"><i class="u"></i><i class="d"></i></div>
<div class="c" style="left:498px;top:653px;background:#00beff">32</div>
<div class="sp" style="left:530px;top:653px"><i class="u"></i><i class="d"></i></div>
<div class="c" style="left:543px;top:653px;background:#00beff">32</div>
<div class="sp" style="left:575px;top:653px"><i class="u"></i><i class="d"></i></div>
<div class="c" style="left:588px;top:653px;background:#00beff">32</div>
<div class="sp" style="left:620px;top:653px"><i class="u"></i><i class="d"></i></div>
<div class="c" style="left:633px;top:653px;background:#00beff">32</div>
<div class="sp" style="left:665px;top:653px"><i class="u"></i><i class="d"></i></div>
<div class="h" style="left:3px;top:678px;width:44px;height:24px;line-height:24px">03A2</div>
<div class="c" style="left:48px;top:678px;background:#00beff">32</div>
<div class="sp" style="left:80px;top:678px"><i class="u"></i><i class="d"></i></div>
<div class="c" style="left:93px;top:678px;background:#00beff">32</div>
<div class="sp" style="left:125px;top:678px"><i class="u"></i><i class="d"></i></div>
<div class="c" style="left:138px;top:678px;background:#00beff">32</div>
<div class="sp" style="left:170px;top:678px"><i class="u"></i><i class="d"></i></div>
<div class="c" style="left:183px;top:678px;background:#00beff">32</div>
<div class="sp" style="left:215px;top:678px"><i class="u"></i><i class="d"></i></div>
<div class="c" style="left:228px;top:678px;background:#00beff">32</div>
<div class="sp" style="left:260px;top:678px"><i class="u"></i><i class="d"></i></div>
<div class="c" style="left:273px;top:678px;background:#00beff">32</div>
<div class="sp" style="left:305px;top:678px"><i class="u"></i><i class="d"></i></div>
<div class="c" style="left:318px;top:678px;background:#00beff">32</div>
<div class="sp" style="left:350px;top:678px"><i class="u"></i><i class="d"></i></div>
<div class="c" style="left:363px;top:678px;background:#00beff">32</div>
<div class="sp" style="left:395px;top:678px"><i class="u"></i><i class="d"></i></div>
<div class="c" style="left:408px;top:678px;background:#00beff">32</div>
<div class="sp" style="left:440px;top:678px"><i class="u"></i><i class="d"></i></div>
<div class="c" style="left:453px;top:678px;background:#00beff">32</div>
<div class="sp" style="left:485px;top:678px"><i class="u"></i><i class="d"></i></div>
<div class="c" style="left:498px;top:678px;background:#00beff">32</div>
<div class="sp" style="left:530px;top:678px"><i class="u"></i><i class="d"></i></div>
<div class="c" style="left:543px;top:678px;background:#00beff">32</div>
<div class="sp" style="left:575px;top:678px"><i class="u"></i><i class="d"></i></div>
<div class="c" style="left:588px;top:678px;background:#1cafef">36</div>
<div class="sp" style="left:620px;top:678px"><i class="u"></i><i class="d"></i></div>
<div class="c" style="left:633px;top:678px;background:#4e96d2">43</div>
<div class="sp" style="left:665px;top:678px"><i class="u"></i><i class="d"></i></div>
<div class="h" style="left:3px;top:703px;width:44px;height:24px;line-height:24px">03B0</div>
<div class="c" style="left:48px;top:703px;background:#00beff">32</div>
<div class="sp" style="left:80px;top:703px"><i class="u"></i><i class="d"></i></div>
<div class="c" style="left:93px;top:703px;background:#00beff">32</div>
<div class="sp" style="left:125px;top:703px"><i class="u"></i><i class="d"></i></div>
<div class="c" style="left:138px;top:703px;background:#00beff">32</div>
<div class="sp" style="left:170px;top:703px"><i class="u"></i><i class="d"></i></div>
<div class="c" style="left:183px;top:703px;background:#00beff">32</div>
<div class="sp" style="left:215px;top:703px"><i class="u"></i><i class="d"></i></div>
<div class="c" style="left:228px;top:703px;background:#00beff">32</div>
<div class="sp" style="left:260px;top:703px"><i class="u"></i><i class="d"></i></div>
<div class="c" style="left:273px;top:703px;background:#00beff">32</div>
<div class="sp" style="left:305px;top:703px"><i class="u"></i><i class="d"></i></div>
<div class="c" style="left:318px;top:703px;background:#00beff">32</div>
<div class="sp" style="left:350px;top:703px"><i class="u"></i><i class="d"></i></div>
<div class="c" style="left:363px;top:703px;background:#00beff">32</div>
<div class="sp" style="left:395px;top:703px"><i class="u"></i><i class="d"></i></div>
<div class="c" style="left:408px;top:703px;background:#00beff">32</div>
<div class="sp" style="left:440px;top:703px"><i class="u"></i><i class="d"></i></div>
<div class="c" style="left:453px;top:703px;background:#00beff">32</div>
<div class="sp" style="left:485px;top:703px"><i class="u"></i><i class="d"></i></div>
<div class="c" style="left:498px;top:703px;background:#00beff">32</div>
<div class="sp" style="left:530px;top:703px"><i class="u"></i><i class="d"></i></div>
<div class="c" style="left:543px;top:703px;background:#07bafb">33</div>
<div class="sp" style="left:575px;top:703px"><i class="u"></i><i class="d"></i></div>
<div class="c" style="left:588px;top:703px;background:#2aa8e6">38</div>
<div class="sp" style="left:620px;top:703px"><i class="u"></i><i class="d"></i></div>
<div class="c" style="left:633px;top:703px;background:#5c8eca">45</div>
<div class="sp" style="left:665px;top:703px"><i class="u"></i><i class="d"></i></div>
<div class="h" style="left:3px;top:728px;width:44px;height:24px;line-height:24px">03BE</div>
<div class="c" style="left:48px;top:728px;background:#00beff">32</div>
<div class="sp" style="left:80px;top:728px"><i class="u"></i><i class="d"></i></div>
<div class="c" style="left:93px;top:728px;background:#00beff">32</div>
<div class="sp" style="left:125px;top:728px"><i class="u"></i><i class="d"></i></div>
<div class="c" style="left:138px;top:728px;background:#00beff">32</div>
<div class="sp" style="left:170px;top:728px"><i class="u"></i><i class="d"></i></div>
<div class="c" style="left:183px;top:728px;background:#00beff">32</div>
<div class="sp" style="left:215px;top:728px"><i class="u"></i><i class="d"></i></div>
<div class="c" style="left:228px;top:728px;background:#00beff">32</div>
<div class="sp" style="left:260px;top:728px"><i class="u"></i><i class="d"></i></div>
<div class="c" style="left:273px;top:728px;background:#00beff">32</div>
<div class="sp" style="left:305px;top:728px"><i class="u"></i><i class="d"></i></div>
<div class="c" style="left:318px;top:728px;background:#00beff">32</div>
<div class="sp" style="left:350px;top:728px"><i class="u"></i><i class="d"></i></div>
<div class="c" style="left:363px;top:728px;background:#00beff">32</div>
<div class="sp" style="left:395px;top:728px"><i class="u"></i><i class="d"></i></div>
<div class="c" style="left:408px;top:728px;background:#00beff">32</div>
<div class="sp" style="left:440px;top:728px"><i class="u"></i><i class="d"></i></div>
<div class="c" style="left:453px;top:728px;background:#00beff">32</div>
<div class="sp" style="left:485px;top:728px"><i class="u"></i><i class="d"></i></div>
<div class="c" style="left:498px;top:728px;background:#00beff">32</div>
<div class="sp" style="left:530px;top:728px"><i class="u"></i><i class="d"></i></div>
<div class="c" style="left:543px;top:728px;background:#15b3f3">35</div>
<div class="sp" style="left:575px;top:728px"><i class="u"></i><i class="d"></i></div>
<div class="c" style="left:588px;top:728px;background:#39a1de">40</div>
<div class="sp" style="left:620px;top:728px"><i class="u"></i><i class="d"></i></div>
<div class="c" style="left:633px;top:728px;background:#6a87c2">47</div>
<div class="sp" style="left:665px;top:728px"><i class="u"></i><i class="d"></i></div>
<div class="h" style="left:3px;top:753px;width:44px;height:24px;line-height:24px">03CC</div>
<div class="c" style="left:48px;top:753px;background:#00beff">32</div>
<div class="sp" style="left:80px;top:753px"><i class="u"></i><i class="d"></i></div>
<div class="c" style="left:93px;top:753px;background:#00beff">32</div>
<div class="sp" style="left:125px;top:753px"><i class="u"></i><i class="d"></i></div>
<div class="c" style="left:138px;top:753px;background:#00beff">32</div>
<div class="sp" style="left:170px;top:753px"><i class="u"></i><i class="d"></i></div>
<div class="c" style="left:183px;top:753px;background:#00beff">32</div>
<div class="sp" style="left:215px;top:753px"><i class="u"></i><i class="d"></i></div>
<div class="c" style="left:228px;top:753px;background:#00beff">32</div>
<div class="sp" style="left:260px;top:753px"><i class="u"></i><i class="d"></i></div>
<div class="c" style="left:273px;top:753px;background:#00beff">32</div>
<div class="sp" style="left:305px;top:753px"><i class="u"></i><i class="d"></i></div>
<div class="c" style="left:318px;top:753px;background:#00beff">32</div>
<div class="sp" style="left:350px;top:753px"><i class="u"></i><i class="d"></i></div>
<div class="c" style="left:363px;top:753px;background:#00beff">32</div>
<div class="sp" style="left:395px;top:753px"><i class="u"></i><i class="d"></i></div>
<div class="c" style="left:408px;top:753px;background:#00beff">32</div>
<div class="sp" style="left:440px;top:753px"><i class="u"></i><i class="d"></i></div>
<div class="c" style="left:453px;top:753px;background:#00beff">32</div>
<div class="sp" style="left:485px;top:753px"><i class="u"></i><i class="d"></i></div>
<div class="c" style="left:498px;top:753px;background:#00beff">32</div>
<div class="sp" style="left:530px;top:753px"><i class="u"></i><i class="d"></i></div>
<div class="c" style="left:543px;top:753px;background:#2aa8e6">38</div>
<div class="sp" style="left:575px;top:753px"><i class="u"></i><i class="d"></i></div>
<div class="c" style="left:588px;top:753px;background:#5592ce">44</div>
<div class="sp" style="left:620px;top:753px"><i class="u"></i><i class="d"></i></div>
<div class="c" style="left:633px;top:753px;background:#7880ba">49</div>
<div class="sp" style="left:665px;top:753px"><i class="u"></i><i class="d"></i></div>
<div class="h" style="left:3px;top:778px;width:44px;height:24px;line-height:24px">03DA</div>
<div class="c" style="left:48px;top:778px;background:#00beff">32</div>
<div class="sp" style="left:80px;top:778px"><i class="u"></i><i class="d"></i></div>
<div class="c" style="left:93px;top:778px;background:#00beff">32</div>
<div class="sp" style="left:125px;top:778px"><i class="u"></i><i class="d"></i></div>
<div class="c" style="left:138px;top:778px;background:#00beff">32</div>
<div class="sp" style="left:170px;top:778px"><i class="u"></i><i class="d"></i></div>
<div class="c" style="left:183px;top:778px;background:#00beff">32</div>
<div class="sp" style="left:215px;top:778px"><i class="u"></i><i class="d"></i></div>
<div class="c" style="left:228px;top:778px;background:#00beff">32</div>
<div class="sp" style="left:260px;top:778px"><i class="u"></i><i class="d"></i></div>
<div class="c" style="left:273px;top:778px;background:#00beff">32</div>
<div class="sp" style="left:305px;top:778px"><i class="u"></i><i class="d"></i></div>
<div class="c" style="left:318px;top:778px;background:#00beff">32</div>
<div class="sp" style="left:350px;top:778px"><i class="u"></i><i class="d"></i></div>
<div class="c" style="left:363px;top:778px;background:#00beff">32</div>
<div class="sp" style="left:395px;top:778px"><i class="u"></i><i class="d"></i></div>
<div class="c" style="left:408px;top:778px;background:#00beff">32</div>
<div class="sp" style="left:440px;top:778px"><i class="u"></i><i class="d"></i></div>
<div class="c" style="left:453px;top:778px;background:#0eb7f7">34</div>
<div class="sp" style="left:485px;top:778px"><i class="u"></i><i class="d"></i></div>
<div class="c" style="left:498px;top:778px;background:#1cafef">36</div>
<div class="sp" style="left:530px;top:778px"><i class="u"></i><i class="d"></i></div>
<div class="c" style="left:543px;top:778px;background:#4799d6">42</div>
<div class="sp" style="left:575px;top:778px"><i class="u"></i><i class="d"></i></div>
<div class="c" style="left:588px;top:778px;background:#7183be">48</div>
<div class="sp" style="left:620px;top:778px"><i class="u"></i><i class="d"></i></div>
<div class="c" style="left:633px;top:778px;background:#a36aa1">55</div>
<div class="sp" style="left:665px;top:778px"><i class="u"></i><i class="d"></i></div>
<div class="h" style="left:3px;top:803px;width:44px;height:24px;line-height:24px">03E8</div>
<div class="c" style="left:48px;top:803px;background:#00beff">32</div>
<div class="sp" style="left:80px;top:803px"><i class="u"></i><i class="d"></i></div>
<div class="c" style="left:93px;top:803px;background:#00beff">32</div>
<div class="sp" style="left:125px;top:803px"><i class="u"></i><i class="d"></i></div>
<div class="c" style="left:138px;top:803px;background:#00beff">32</div>
<div class="sp" style="left:170px;top:803px"><i class="u"></i><i class="d"></i></div>
<div class="c" style="left:183px;top:803px;background:#00beff">32</div>
<div class="sp" style="left:215px;top:803px"><i class="u"></i><i class="d"></i></div>
<div class="c" style="left:228px;top:803px;background:#00beff">32</div>
<div class="sp" style="left:260px;top:803px"><i class="u"></i><i class="d"></i></div>
<div class="c" style="left:273px;top:803px;background:#00beff">32</div>
<div class="sp" style="left:305px;top:803px"><i class="u"></i><i class="d"></i></div>
<div class="c" style="left:318px;top:803px;background:#00beff">32</div>
<div class="sp" style="left:350px;top:803px"><i class="u"></i><i class="d"></i></div>
<div class="c" style="left:363px;top:803px;background:#00beff">32</div>
<div class="sp" style="left:395px;top:803px"><i class="u"></i><i class="d"></i></div>
<div class="c" style="left:408px;top:803px;background:#00beff">32</div>
<div class="sp" style="left:440px;top:803px"><i class="u"></i><i class="d"></i></div>
<div class="c" style="left:453px;top:803px;background:#1cafef">36</div>
<div class="sp" style="left:485px;top:803px"><i class="u"></i><i class="d"></i></div>
<div class="c" style="left:498px;top:803px;background:#2aa8e6">38</div>
<div class="sp" style="left:530px;top:803px"><i class="u"></i><i class="d"></i></div>
<div class="c" style="left:543px;top:803px;background:#5592ce">44</div>
<div class="sp" style="left:575px;top:803px"><i class="u"></i><i class="d"></i></div>
<div class="c" style="left:588px;top:803px;background:#7880ba">49</div>
<div class="sp" style="left:620px;top:803px"><i class="u"></i><i class="d"></i></div>
<div class="c" style="left:633px;top:803px;background:#b16299">57</div>
<div class="sp" style="left:665px;top:803px"><i class="u"></i><i class="d"></i></div>
<div class="h" style="left:3px;top:828px;width:44px;height:24px;line-height:24px">03F6</div>
<div class="c" style="left:48px;top:828px;background:#4799d6">42</div>
<div class="sp" style="left:80px;top:828px"><i class="u"></i><i class="d"></i></div>
<div class="c" style="left:93px;top:828px;background:#8e75ad">52</div>
<div class="sp" style="left:125px;top:828px"><i class="u"></i><i class="d"></i></div>
<div class="c" style="left:138px;top:828px;background:#aa669d">56</div>
<div class="sp" style="left:170px;top:828px"><i class="u"></i><i class="d"></i></div>
<div class="c" style="left:183px;top:828px;background:#39a1de">40</div>
<div class="sp" style="left:215px;top:828px"><i class="u"></i><i class="d"></i></div>
<div class="c" style="left:228px;top:828px;background:#39a1de">40</div>
<div class="sp" style="left:260px;top:828px"><i class="u"></i><i class="d"></i></div>
<div class="c" style="left:273px;top:828px;background:#39a1de">40</div>
<div class="sp" style="left:305px;top:828px"><i class="u"></i><i class="d"></i></div>
<div class="c" style="left:318px;top:828px;background:#39a1de">40</div>
<div class="sp" style="left:350px;top:828px"><i class="u"></i><i class="d"></i></div>
<div class="c" style="left:363px;top:828px;background:#39a1de">40</div>
<div class="sp" style="left:395px;top:828px"><i class="u"></i><i class="d"></i></div>
<div class="c" style="left:408px;top:828px;background:#2aa8e6">38</div>
<div class="sp" style="left:440px;top:828px"><i class="u"></i><i class="d"></i></div>
<div class="c" style="left:453px;top:828px;background:#1cafef">36</div>
<div class="sp" style="left:485px;top:828px"><i class="u"></i><i class="d"></i></div>
<div class="c" style="left:498px;top:828px;background:#2aa8e6">38</div>
<div class="sp" style="left:530px;top:828px"><i class="u"></i><i class="d"></i></div>
<div class="c" style="left:543px;top:828px;background:#5c8eca">45</div>
<div class="sp" style="left:575px;top:828px"><i class="u"></i><i class="d"></i></div>
<div class="c" style="left:588px;top:828px;background:#807cb6">50</div>
<div class="sp" style="left:620px;top:828px"><i class="u"></i><i class="d"></i></div>
<div class="c" style="left:633px;top:828px;background:#ea4578">65</div>
<div class="sp" style="left:665px;top:828px"><i class="u"></i><i class="d"></i></div>
<div class="h" style="left:3px;top:853px;width:44px;height:24px;line-height:24px">0404</div>
<div class="c" style="left:48px;top:853px;background:#4799d6">42</div>
<div class="sp" style="left:80px;top:853px"><i class="u"></i><i class="d"></i></div>
<div class="c" style="left:93px;top:853px;background:#8e75ad">52</div>
<div class="sp" style="left:125px;top:853px"><i class="u"></i><i class="d"></i></div>
<div class="c" style="left:138px;top:853px;background:#aa669d">56</div>
<div class="sp" style="left:170px;top:853px"><i class="u"></i><i class="d"></i></div>
<div class="c" style="left:183px;top:853px;background:#807cb6">50</div>
<div class="sp" style="left:215px;top:853px"><i class="u"></i><i class="d"></i></div>
<div class="c" style="left:228px;top:853px;background:#39a1de">40</div>
<div class="sp" style="left:260px;top:853px"><i class="u"></i><i class="d"></i></div>
<div class="c" style="left:273px;top:853px;background:#39a1de">40</div>
<div class="sp" style="left:305px;top:853px"><i class="u"></i><i class="d"></i></div>
<div class="c" style="left:318px;top:853px;background:#39a1de">40</div>
<div class="sp" style="left:350px;top:853px"><i class="u"></i><i class="d"></i></div>
<div class="c" style="left:363px;top:853px;background:#39a1de">40</div>
<div class="sp" style="left:395px;top:853px"><i class="u"></i><i class="d"></i></div>
<div class="c" style="left:408px;top:853px;background:#39a1de">40</div>
<div class="sp" style="left:440px;top:853px"><i class="u"></i><i class="d"></i></div>
<div class="c" style="left:453px;top:853px;background:#39a1de">40</div>
<div class="sp" style="left:485px;top:853px"><i class="u"></i><i class="d"></i></div>
<div class="c" style="left:498px;top:853px;background:#2aa8e6">38</div>
<div class="sp" style="left:530px;top:853px"><i class="u"></i><i class="d"></i></div>
<div class="c" style="left:543px;top:853px;background:#638bc6">46</div>
<div class="sp" style="left:575px;top:853px"><i class="u"></i><i class="d"></i></div>
<div class="c" style="left:588px;top:853px;background:#8e75ad">52</div>
<div class="sp" style="left:620px;top:853px"><i class="u"></i><i class="d"></i></div>
<div class="c" style="left:633px;top:853px;background:#ff3a6c">68</div>
<div class="sp" style="left:665px;top:853px"><i class="u"></i><i class="d"></i></div>
<div class="h" style="left:3px;top:878px;width:44px;height:24px;line-height:24px">0412</div>
<div class="c" style="left:48px;top:878px;background:#4799d6">42</div>
<div class="sp" style="left:80px;top:878px"><i class="u"></i><i class="d"></i></div>
<div class="c" style="left:93px;top:878px;background:#8e75ad">52</div>
<div class="sp" style="left:125px;top:878px"><i class="u"></i><i class="d"></i></div>
<div class="c" style="left:138px;top:878px;background:#aa669d">56</div>
<div class="sp" style="left:170px;top:878px"><i class="u"></i><i class="d"></i></div>
<div class="c" style="left:183px;top:878px;background:#807cb6">50</div>
<div class="sp" style="left:215px;top:878px"><i class="u"></i><i class="d"></i></div>
<div class="c" style="left:228px;top:878px;background:#7183be">48</div>
<div class="sp" style="left:260px;top:878px"><i class="u"></i><i class="d"></i></div>
<div class="c" style="left:273px;top:878px;background:#8778b1">51</div>
<div class="sp" style="left:305px;top:878px"><i class="u"></i><i class="d"></i></div>
<div class="c" style="left:318px;top:878px;background:#807cb6">50</div>
<div class="sp" style="left:350px;top:878px"><i class="u"></i><i class="d"></i></div>
<div class="c" style="left:363px;top:878px;background:#807cb6">50</div>
<div class="sp" style="left:395px;top:878px"><i class="u"></i><i class="d"></i></div>
<div class="c" style="left:408px;top:878px;background:#807cb6">50</div>
<div class="sp" style="left:440px;top:878px"><i class="u"></i><i class="d"></i></div>
<div class="c" style="left:453px;top:878px;background:#5c8eca">45</div>
<div class="sp" style="left:485px;top:878px"><i class="u"></i><i class="d"></i></div>
<div class="c" style="left:498px;top:878px;background:#5c8eca">45</div>
<div class="sp" style="left:530px;top:878px"><i class="u"></i><i class="d"></i></div>
<div class="c" style="left:543px;top:878px;background:#8e75ad">52</div>
<div class="sp" style="left:575px;top:878px"><i class="u"></i><i class="d"></i></div>
<div class="c" style="left:588px;top:878px;background:#9c6da5">54</div>
<div class="sp" style="left:620px;top:878px"><i class="u"></i><i class="d"></i></div>
<div class="c" style="left:633px;top:878px;background:#ff3a6c">68</div>
<div class="sp" style="left:665px;top:878px"><i class="u"></i><i class="d"></i></div>
<div class="h" style="left:3px;top:903px;width:44px;height:24px;line-height:24px">0420</div>
<div class="c" style="left:48px;top:903px;background:#4799d6">42</div>
<div class="sp" style="left:80px;top:903px"><i class="u"></i><i class="d"></i></div>
<div class="c" style="left:93px;top:903px;background:#8e75ad">52</div>
<div class="sp" style="left:125px;top:903px"><i class="u"></i><i class="d"></i></div>
<div class="c" style="left:138px;top:903px;background:#aa669d">56</div>
<div class="sp" style="left:170px;top:903px"><i class="u"></i><i class="d"></i></div>
<div class="c" style="left:183px;top:903px;background:#807cb6">50</div>
<div class="sp" style="left:215px;top:903px"><i class="u"></i><i class="d"></i></div>
<div class="c" style="left:228px;top:903px;background:#7183be">48</div>
<div class="sp" style="left:260px;top:903px"><i class="u"></i><i class="d"></i></div>
<div class="c" style="left:273px;top:903px;background:#8778b1">51</div>
<div class="sp" style="left:305px;top:903px"><i class="u"></i><i class="d"></i></div>
<div class="c" style="left:318px;top:903px;background:#807cb6">50</div>
<div class="sp" style="left:350px;top:903px"><i class="u"></i><i class="d"></i></div>
<div class="c" style="left:363px;top:903px;background:#807cb6">50</div>
<div class="sp" style="left:395px;top:903px"><i class="u"></i><i class="d"></i></div>
<div class="c" style="left:408px;top:903px;background:#807cb6">50</div>
<div class="sp" style="left:440px;top:903px"><i class="u"></i><i class="d"></i></div>
<div class="c" style="left:453px;top:903px;background:#6a87c2">47</div>
<div class="sp" style="left:485px;top:903px"><i class="u"></i><i class="d"></i></div>
<div class="c" style="left:498px;top:903px;background:#8e75ad">52</div>
<div class="sp" style="left:530px;top:903px"><i class="u"></i><i class="d"></i></div>
<div class="c" style="left:543px;top:903px;background:#bf5b91">59</div>
<div class="sp" style="left:575px;top:903px"><i class="u"></i><i class="d"></i></div>
<div class="c" style="left:588px;top:903px;background:#9c6da5">54</div>
<div class="sp" style="left:620px;top:903px"><i class="u"></i><i class="d"></i></div>
<div class="c" style="left:633px;top:903px;background:#ff3a6c">68</div>
<div class="sp" style="left:665px;top:903px"><i class="u"></i><i class="d"></i></div>
<div class="h" style="left:3px;top:928px;width:44px;height:24px;line-height:24px">042E</div>
<div class="c" style="left:48px;top:928px;background:#4799d6">42</div>
<div class="sp" style="left:80px;top:928px"><i class="u"></i><i class="d"></i></div>
<div class="c" style="left:93px;top:928px;background:#8e75ad">52</div>
<div class="sp" style="left:125px;top:928px"><i class="u"></i><i class="d"></i></div>
<div class="c" style="left:138px;top:928px;background:#aa669d">56</div>
<div class="sp" style="left:170px;top:928px"><i class="u"></i><i class="d"></i></div>
<div class="c" style="left:183px;top:928px;background:#807cb6">50</div>
<div class="sp" style="left:215px;top:928px"><i class="u"></i><i class="d"></i></div>
<div class="c" style="left:228px;top:928px;background:#7183be">48</div>
<div class="sp" style="left:260px;top:928px"><i class="u"></i><i class="d"></i></div>
<div class="c" style="left:273px;top:928px;background:#8778b1">51</div>
<div class="sp" style="left:305px;top:928px"><i class="u"></i><i class="d"></i></div>
<div class="c" style="left:318px;top:928px;background:#807cb6">50</div>
<div class="sp" style="left:350px;top:928px"><i class="u"></i><i class="d"></i></div>
<div class="c" style="left:363px;top:928px;background:#807cb6">50</div>
<div class="sp" style="left:395px;top:928px"><i class="u"></i><i class="d"></i></div>
<div class="c" style="left:408px;top:928px;background:#807cb6">50</div>
<div class="sp" style="left:440px;top:928px"><i class="u"></i><i class="d"></i></div>
<div class="c" style="left:453px;top:928px;background:#6a87c2">47</div>
<div class="sp" style="left:485px;top:928px"><i class="u"></i><i class="d"></i></div>
<div class="c" style="left:498px;top:928px;background:#8e75ad">52</div>
<div class="sp" style="left:530px;top:928px"><i class="u"></i><i class="d"></i></div>
<div class="c" style="left:543px;top:928px;background:#bf5b91">59</div>
<div class="sp" style="left:575px;top:928px"><i class="u"></i><i class="d"></i></div>
<div class="c" style="left:588px;top:928px;background:#9c6da5">54</div>
<div class="sp" style="left:620px;top:928px"><i class="u"></i><i class="d"></i></div>
<div class="c" style="left:633px;top:928px;background:#ff3a6c">68</div>
<div class="sp" style="left:665px;top:928px"><i class="u"></i><i class="d"></i></div>
</div></body></html>
